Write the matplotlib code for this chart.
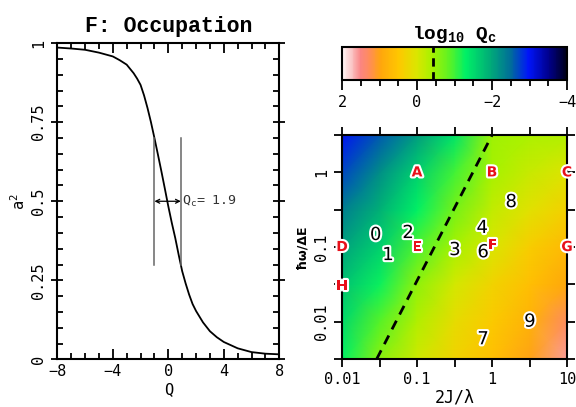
import numpy as np
import matplotlib
matplotlib.use('Agg')
import matplotlib.pyplot as plt
from matplotlib.colors import LinearSegmentedColormap, Normalize
from matplotlib.ticker import FixedLocator, NullFormatter, MultipleLocator
import matplotlib.patheffects as pe

# Occupation curve a^2 against Q
q_vals = [-8, -7, -6, -5, -4, -3.5, -3, -2.5, -2.25, -2, -1.75, -1.5, -1.25,
          -1, -0.75, -0.5, -0.25, 0, 0.25, 0.5, 0.75, 1, 1.25, 1.5, 1.75,
          2, 2.5, 3, 3.5, 4, 5, 6, 7, 8]
a2_vals = [0.986, 0.983, 0.979, 0.970, 0.958, 0.946, 0.932, 0.905, 0.888,
           0.868, 0.835, 0.795, 0.750, 0.700, 0.648, 0.595, 0.540, 0.484,
           0.432, 0.384, 0.330, 0.279, 0.240, 0.205, 0.175, 0.153, 0.117,
           0.089, 0.070, 0.055, 0.035, 0.023, 0.018, 0.016]
q_low, q_high = -1.0, 0.9
qc_text = 'Q$_\\mathregular{c}$= 1.9'

# log10 Qc map on a grid of 2J/lambda (columns) and hbar*omega/dE (rows)
log_j = [-2, -1.5, -1, -0.5, 0, 0.5, 1]
log_w = [-2.5, -2, -1.5, -1, -0.5, 0, 0.5]
log_qc = [
    [-1.3, -0.6, -0.1, 0.3, 0.6, 1.0, 1.6],
    [-1.5, -0.9, -0.3, 0.15, 0.45, 0.8, 1.3],
    [-1.75, -1.25, -0.55, -0.05, 0.3, 0.6, 0.95],
    [-2.05, -1.6, -0.95, -0.4, 0.0, 0.4, 0.7],
    [-2.35, -1.9, -1.3, -0.7, -0.2, 0.1, 0.35],
    [-2.7, -2.2, -1.6, -1.0, -0.4, -0.15, 0.05],
    [-3.0, -2.6, -2.1, -1.4, -0.45, -0.35, -0.3],
]
qc_level = -0.43
boundary_j = [0.029, 1.0]
boundary_w = [10 ** -2.5, 10 ** 0.5]

# labelled points
letters = ['A', 'B', 'C', 'D', 'E', 'F', 'G', 'H']
letter_j = [0.1, 1, 10, 0.01, 0.1, 1.02, 10, 0.01]
letter_w = [1, 1, 1, 0.1, 0.1, 0.105, 0.1, 0.03]
numbers = ['0', '1', '2', '3', '4', '6', '7', '8', '9']
number_j = [0.028, 0.041, 0.076, 0.32, 0.74, 0.76, 0.76, 1.8, 3.2]
number_w = [0.145, 0.078, 0.154, 0.091, 0.18, 0.085, 0.0058, 0.4, 0.01]

mono = 'Liberation Mono'
tickfont = 'DejaVu Sans Mono'

fig = plt.figure(figsize=(5.76, 4.07), dpi=100)

# ---- left panel
ax = fig.add_axes([0.0995, 0.117, 0.3854, 0.777])
ax.plot(q_vals, a2_vals, color='black', lw=1.3)
ax.set_xlim(-8, 8)
ax.set_ylim(0, 1)
for q in (q_low, q_high):
    ax.plot([q, q], [0.3, 0.7], color='#666666', lw=1.1)
ax.annotate('', xy=(q_low, 0.5), xytext=(q_high, 0.5),
            arrowprops=dict(arrowstyle='<->', color='black', lw=0.9,
                            shrinkA=0, shrinkB=0, mutation_scale=7))
ax.text(q_high + 0.1, 0.5, qc_text, fontsize=9.5, fontfamily=tickfont,
        color='#333333', va='center', ha='left')
ax.set_xticks([-8, -4, 0, 4, 8])
ax.set_yticks([0, 0.25, 0.5, 0.75, 1])
ax.set_xticklabels(['\u22128', '\u22124', '0', '4', '8'])
ax.set_yticklabels(['0', '0.25', '0.5', '0.75', '1'], rotation=90, va='center')
ax.xaxis.set_minor_locator(MultipleLocator(1))
ax.yaxis.set_minor_locator(MultipleLocator(0.05))
ax.tick_params(which='both', direction='in', top=True, right=True,
               labelsize=11, width=1.3)
ax.tick_params(which='major', length=7)
ax.tick_params(axis='y', which='major', direction='inout', length=9)
ax.tick_params(which='minor', length=4)
for lab in ax.get_xticklabels() + ax.get_yticklabels():
    lab.set_fontfamily(tickfont)
for s in ax.spines.values():
    s.set_linewidth(1.5)
ax.set_xlabel('Q', fontsize=11, fontfamily=tickfont, labelpad=2)
ax.set_ylabel('a$^\\mathregular{2}$', fontsize=11, fontfamily=tickfont, labelpad=2)
ax.set_title('F: Occupation', fontsize=15.5, fontfamily=mono, fontweight='bold', pad=8)

# ---- colour map for log10 Qc
cmap = LinearSegmentedColormap.from_list('qc', [
    (0.0, (0.0, 0.0, 0.10)),
    (0.08, (0.0, 0.0, 0.55)),
    (0.17, (0.0, 0.08, 0.98)),
    (0.25, (0.0, 0.43, 0.60)),
    (0.34, (0.0, 0.67, 0.47)),
    (0.45, (0.0, 0.94, 0.40)),
    (0.52, (0.35, 0.95, 0.15)),
    (0.60, (0.65, 0.95, 0.0)),
    (0.67, (0.86, 0.90, 0.0)),
    (0.75, (1.0, 0.78, 0.0)),
    (0.83, (1.0, 0.65, 0.05)),
    (0.88, (1.0, 0.55, 0.35)),
    (0.92, (0.98, 0.52, 0.52)),
    (0.96, (0.98, 0.78, 0.78)),
    (1.0, (1.0, 0.96, 0.96)),
])
norm = Normalize(vmin=-4, vmax=2)

# ---- map panel
axm = fig.add_axes([0.5938, 0.118, 0.3906, 0.550])
jj, ww = np.meshgrid(10.0 ** np.array(log_j), 10.0 ** np.array(log_w))
mesh = axm.pcolormesh(jj, ww, np.array(log_qc), cmap=cmap, norm=norm,
                      shading='gouraud', rasterized=True)
axm.set_xscale('log')
axm.set_yscale('log')
axm.set_xlim(0.01, 10)
axm.set_ylim(10 ** -2.5, 10 ** 0.5)
axm.plot(boundary_j, boundary_w, color='black', lw=2, ls=(0, (3.5, 2.5)))

halo = [pe.withStroke(linewidth=3, foreground='white')]
for t, x, y in zip(letters, letter_j, letter_w):
    axm.text(x, y, t, color='#e8101a', fontsize=10, fontweight='bold',
             fontfamily='DejaVu Sans', ha='center', va='center',
             path_effects=halo, clip_on=False, zorder=5)
for t, x, y in zip(numbers, number_j, number_w):
    axm.text(x, y, t, color='black', fontsize=13, fontfamily='DejaVu Sans',
             ha='center', va='center', path_effects=halo, zorder=6)

axm.xaxis.set_major_locator(FixedLocator([0.01, 0.1, 1, 10]))
axm.xaxis.set_minor_locator(FixedLocator([10 ** -1.5, 10 ** -0.5, 10 ** 0.5]))
axm.yaxis.set_major_locator(FixedLocator([0.01, 0.1, 1]))
axm.yaxis.set_minor_locator(FixedLocator([10 ** -2.5, 10 ** -1.5, 10 ** -0.5, 10 ** 0.5]))
axm.xaxis.set_minor_formatter(NullFormatter())
axm.yaxis.set_minor_formatter(NullFormatter())
axm.set_xticklabels(['0.01', '0.1', '1', '10'])
axm.set_yticklabels(['0.01', '0.1', '1'], rotation=90, va='center')
axm.tick_params(which='both', direction='out', top=True, right=True,
                labelsize=11, width=1.3, length=6)
for lab in axm.get_xticklabels() + axm.get_yticklabels():
    lab.set_fontfamily(tickfont)
for s in axm.spines.values():
    s.set_linewidth(1.5)
axm.set_xlabel('2J/λ', fontsize=12, fontfamily=tickfont, labelpad=1)
axm.set_ylabel('ħω/ΔE', fontsize=9, fontfamily='DejaVu Sans', fontweight='bold',
               labelpad=4)

# ---- colour bar
cax = fig.add_axes([0.5938, 0.803, 0.3906, 0.081])
cbar = fig.colorbar(mesh, cax=cax, orientation='horizontal')
cax.invert_xaxis()
cbar.set_ticks([2, 0, -2, -4])
cbar.set_ticklabels(['2', '0', '\u22122', '\u22124'])
cax.xaxis.set_minor_locator(MultipleLocator(0.5))
cax.tick_params(which='both', direction='out', width=1.3, labelsize=11)
cax.tick_params(which='major', length=7)
cax.tick_params(which='minor', length=4)
for lab in cax.get_xticklabels():
    lab.set_fontfamily(tickfont)
cbar.outline.set_linewidth(1.5)
cax.axvline(qc_level, color='black', lw=2, ls=(0, (3, 2)))
cax.set_title('log$_\\mathregular{10}$ Q$_\\mathregular{c}$', fontsize=14,
              fontfamily=mono, fontweight='bold', pad=6)

fig.savefig('out.png', dpi=100)
